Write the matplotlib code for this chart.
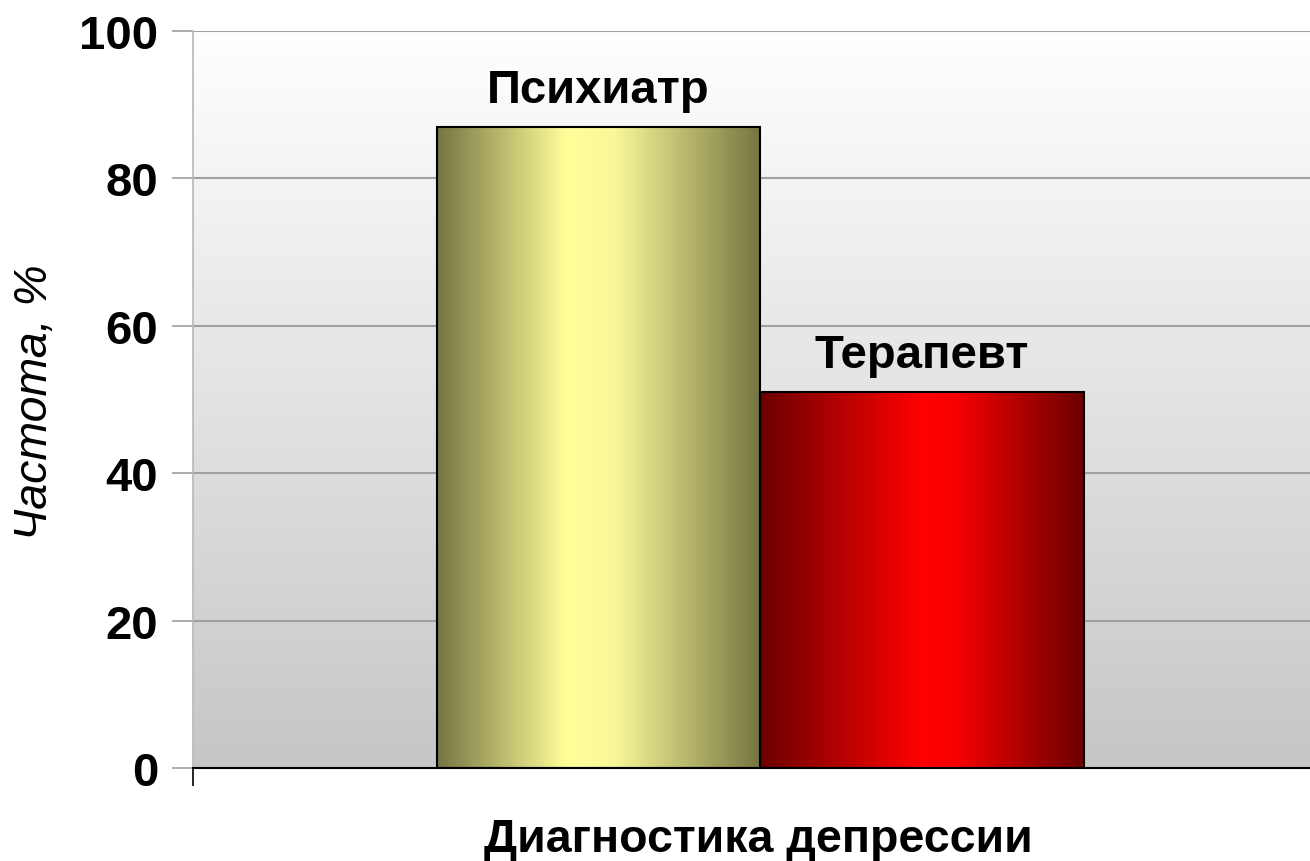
import numpy as np
import matplotlib.pyplot as plt
from matplotlib.colors import LinearSegmentedColormap

plt.rcParams['font.family'] = ['Liberation Sans', 'DejaVu Sans']

groups = ['Психиатр', 'Терапевт']
values = [87, 51]
y_ticks = [0, 20, 40, 60, 80, 100]

fig = plt.figure(figsize=(13.1, 8.62), dpi=100)
ax = fig.add_axes([193 / 1310, 1 - 769 / 862, 1 - 193 / 1310, (769 - 32) / 862])

ax.set_xlim(-1.253, 2.198)
ax.set_ylim(0, 100)

# фон области построения: вертикальный градиент от белого к серому
bg = LinearSegmentedColormap.from_list('bg', ['#c6c6c6', '#ffffff'])
ax.imshow(np.linspace(0, 1, 256).reshape(-1, 1), cmap=bg, aspect='auto',
          extent=(0, 1, 0, 1), transform=ax.transAxes, origin='lower', zorder=0)

for t in y_ticks[1:]:
    ax.axhline(t, color='#a0a0a0', lw=1.5, zorder=1)

# градиентная заливка столбцов
bar_maps = [
    LinearSegmentedColormap.from_list('psy', [(0, '#757542'), (0.4, '#ffff99'),
                                              (0.55, '#f8f898'), (1, '#757542')]),
    LinearSegmentedColormap.from_list('ther', [(0, '#6c0000'), (0.5, '#ff0000'),
                                               (0.6, '#f80000'), (1, '#6c0000')]),
]
grad = np.linspace(0, 1, 256).reshape(1, -1)
for i, (name, v) in enumerate(zip(groups, values)):
    left, right = i - 0.5, i + 0.5
    ax.imshow(grad, cmap=bar_maps[i], aspect='auto',
              extent=(left, right, 0, v), zorder=2)
    ax.add_patch(plt.Rectangle((left, 0), 1, v, fill=False,
                               edgecolor='black', lw=1.5, zorder=3))
    ax.text(i, v + 5, name, ha='center', va='center',
            fontsize=34, fontweight='bold', zorder=4)

ax.set_yticks(y_ticks)
ax.set_yticklabels([str(t) for t in y_ticks], fontsize=34, fontweight='bold')
ax.tick_params(axis='y', length=15, width=1.2, color='#a0a0a0', pad=10)
ax.set_xticks([-1.253])
ax.set_xticklabels([''])
ax.tick_params(axis='x', length=13, width=1.2, color='black')

ax.spines['left'].set_color('#b8b8b8')
ax.spines['left'].set_linewidth(1.2)
ax.spines['bottom'].set_color('black')
ax.spines['bottom'].set_linewidth(1.5)
ax.spines['top'].set_visible(False)
ax.spines['right'].set_visible(False)

fig.text(758 / 1310, 1 - 840 / 862, 'Диагностика депрессии', ha='center',
         va='center', fontsize=33.5, fontweight='bold')
fig.text(35 / 1310, 1 - 402 / 862, 'Частота, %', ha='center', va='center',
         rotation=90, fontsize=33.5, fontstyle='italic')

fig.savefig('out.png', dpi=100)
